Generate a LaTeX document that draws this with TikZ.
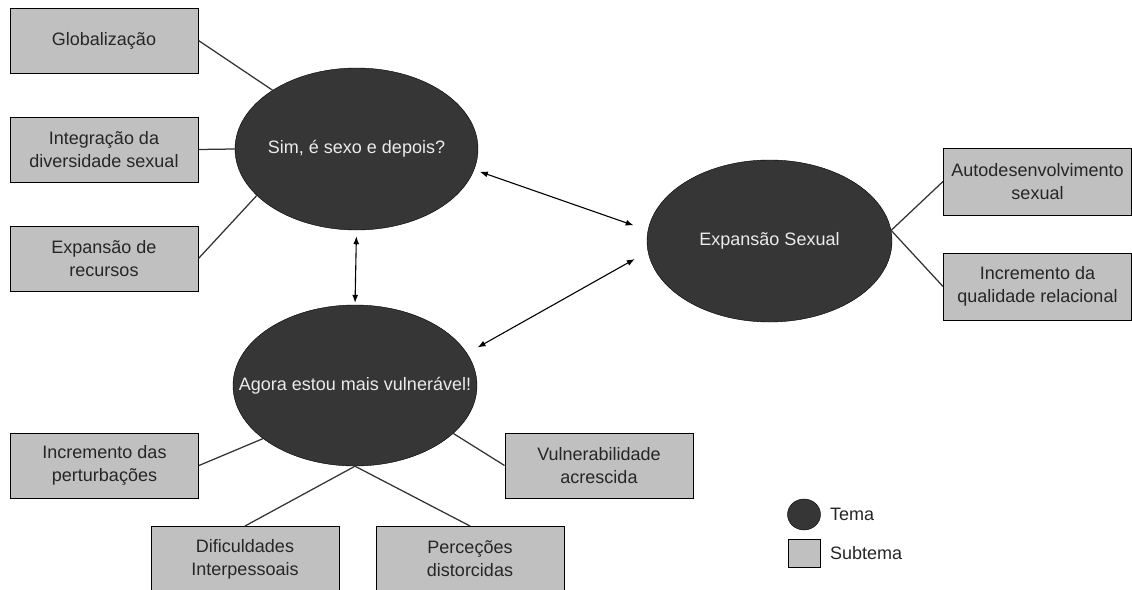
\documentclass[tikz,border=0pt]{standalone}
\usepackage{fontspec}
\setmainfont{Liberation Sans}
\usepackage{tikz}
\usetikzlibrary{arrows.meta,shapes.geometric}

\definecolor{temafill}{HTML}{363636}
\definecolor{subfill}{HTML}{C0C0C0}

\begin{document}
\begin{tikzpicture}[
  x=1pt, y=-1pt,
  every node/.style={font=\fontsize{18}{23}\selectfont},
  tema/.style={ellipse, draw=black, fill=temafill, text=white!92!black,
    inner sep=0pt, minimum width=243pt, minimum height=162pt},
  subtema/.style={rectangle, draw=black, line width=1pt, fill=subfill,
    text=black!85, align=center, inner sep=0pt,
    minimum width=188pt, minimum height=65pt},
  ligacao/.style={draw=black!80, line width=1.25pt},
  biarrow/.style={draw=black, line width=1.1pt,
    {Latex[length=8pt,width=6pt]}-{Latex[length=8pt,width=6pt]}}
]
\useasboundingbox[fill=white] (0,0) rectangle (1132,589);

% temas
\node[tema] (Sim) at (356.5,149) {\makebox[0pt]{Sim, é sexo e depois?}};
\node[tema, minimum width=244pt, minimum height=161pt] (Agora) at (355,385.5)
  {\makebox[0pt]{Agora estou mais vulnerável!}};
\node[tema, minimum width=245pt] (Exp) at (769.5,241) {\makebox[0pt]{Expansão Sexual}};

% subtemas
\node[subtema] (Glob) at (104,40.5) {Globalização};
\node[subtema] (Integ) at (104,149.5) {Integração da\\diversidade sexual};
\node[subtema] (Recur) at (104,258.5) {Expansão de\\recursos};
\node[subtema, minimum height=67pt] (Auto) at (1037.5,181.5) {Autodesenvolvimento\\sexual};
\node[subtema, minimum height=67pt] (Qual) at (1037.5,286.5) {Incremento da\\qualidade relacional};
\node[subtema] (Pert) at (104.5,465.5) {Incremento das\\perturbações};
\node[subtema] (Vuln) at (599,465.5) {Vulnerabilidade\\acrescida};
\node[subtema] (Dif) at (245,559) {Dificuldades\\Interpessoais};
\node[subtema] (Perc) at (470,559) {Perceções\\distorcidas};

% ligacoes
\draw[ligacao] (Glob.east) -- (Sim.145);
\draw[ligacao] (Integ.east) -- (Sim.west);
\draw[ligacao] (Recur.east) -- (Sim.205);
\draw[ligacao] (Exp.5) -- (Auto.west);
\draw[ligacao] (Exp.5) -- (Qual.west);
\draw[ligacao] (Pert.east) -- (Agora.210);
\draw[ligacao] (Vuln.west) -- (Agora.-26);
\draw[ligacao] (Dif.north) -- (Agora.south);
\draw[ligacao] (Perc.north) -- (Agora.south);

% relacoes entre temas
\draw[biarrow, shorten <=6pt, shorten >=2pt] (Sim.south) -- (Agora.north);
\draw[biarrow, shorten <=6pt, shorten >=15pt] (Sim.-10) -- (Exp.175);
\draw[biarrow, shorten <=15pt, shorten >=12pt] (Exp.185) -- (Agora.16);

% legenda
\node[ellipse, draw=black, fill=temafill, minimum width=33pt, minimum height=31pt,
  inner sep=0pt] (LegTema) at (804,514.5) {};
\node[rectangle, draw=black, fill=subfill, minimum width=32pt, minimum height=28pt,
  inner sep=0pt] (LegSub) at (804,553) {};
\node[anchor=west, text=black!85, inner sep=0pt] (LegTemaTxt) at (830,514.5) {Tema};
\node[anchor=west, text=black!85, inner sep=0pt] (LegSubTxt) at (830,553) {Subtema};
\end{tikzpicture}
\end{document}
